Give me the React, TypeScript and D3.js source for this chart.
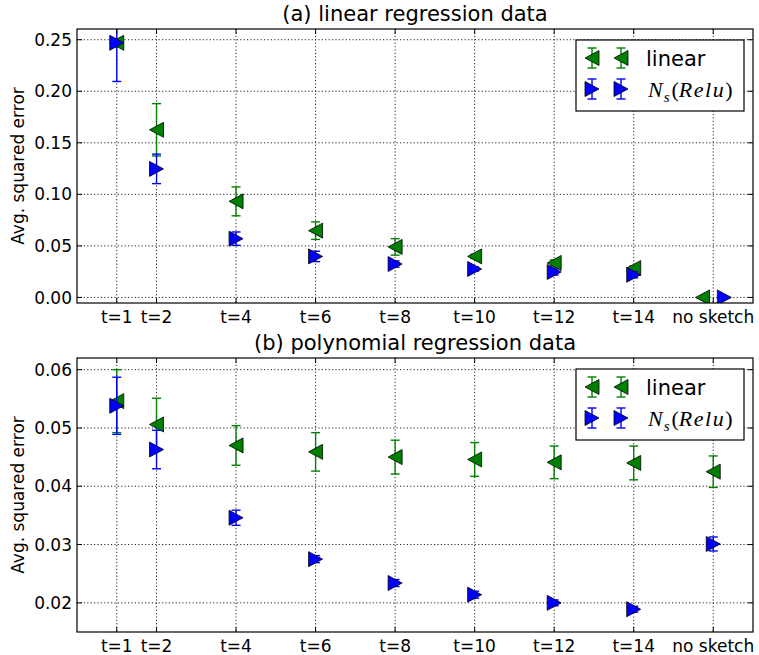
import React, { useEffect, useRef } from 'react';
import * as d3 from 'd3';

// x axis categories
const tickPos = [1, 2, 4, 6, 8, 10, 12, 14, 16];
const tickLabels = ['t=1', 't=2', 't=4', 't=6', 't=8', 't=10', 't=12', 't=14', 'no sketch'];

// (a) linear regression data
const linearAX = [1, 2, 4, 6, 8, 10, 12, 14, 15.73];
const linearA = [0.247, 0.1626, 0.0932, 0.0648, 0.049, 0.0398, 0.0334, 0.0285, 0.0];
const linearAErr = [0.004, 0.0254, 0.014, 0.0085, 0.008, 0.002, 0.003, 0.002, 0.0];
const reluAX = [1, 2, 4, 6, 8, 10, 12, 14, 16.28];
const reluA = [0.247, 0.1247, 0.057, 0.0398, 0.0324, 0.0276, 0.0247, 0.022, 0.0];
const reluAErr = [0.0375, 0.0143, 0.0065, 0.005, 0.003, 0.002, 0.003, 0.003, 0.0];
const yTicksA = [0, 0.05, 0.1, 0.15, 0.2, 0.25];

// (b) polynomial regression data
const linearBX = [1, 2, 4, 6, 8, 10, 12, 14, 16];
const linearB = [0.0546, 0.0506, 0.047, 0.0459, 0.045, 0.0446, 0.0441, 0.044, 0.0425];
const linearBErr = [0.0054, 0.0045, 0.0034, 0.0033, 0.0029, 0.0029, 0.0028, 0.0029, 0.0027];
const reluBX = [1, 2, 4, 6, 8, 10, 12, 14, 16];
const reluB = [0.0538, 0.0463, 0.0346, 0.0275, 0.0234, 0.0214, 0.02, 0.0189, 0.0301];
const reluBErr = [0.0049, 0.0033, 0.0013, 0.0006, 0.0006, 0.0006, 0.0005, 0.0005, 0.0012];
const yTicksB = [0.02, 0.03, 0.04, 0.05, 0.06];

const GREEN = '#008000';
const BLUE = '#0000ff';
const FONT = '"DejaVu Sans", sans-serif';

const W = 759, H = 655;
const left = 77, right = 753;

const triLeft = 'M-7,0L7,-7.5L7,7.5Z';
const triRight = 'M7,0L-7,-7.5L-7,7.5Z';

function drawPanel(svg, id, top, bottom, yDomain, yTicks, title, series) {
  const x = d3.scaleLinear().domain([0, 17]).range([left, right]);
  const y = d3.scaleLinear().domain(yDomain).range([bottom, top]);
  const g = svg.append('g');

  g.append('clipPath').attr('id', id)
    .append('rect').attr('x', left).attr('y', top).attr('width', right - left).attr('height', bottom - top);

  // grid, dotted
  const grid = g.append('g').attr('stroke', '#000').attr('stroke-width', 1)
    .attr('stroke-dasharray', '1.2,2.2').attr('opacity', 0.85);
  grid.selectAll('.gx').data(tickPos).enter().append('line')
    .attr('x1', d => x(d)).attr('x2', d => x(d)).attr('y1', top).attr('y2', bottom);
  grid.selectAll('.gy').data(yTicks).enter().append('line')
    .attr('x1', left).attr('x2', right).attr('y1', d => y(d)).attr('y2', d => y(d));

  // data
  const marks = g.append('g').attr('clip-path', `url(#${id})`);
  series.forEach(s => {
    const pts = s.xs.map((xv, i) => ({ x: xv, v: s.vals[i], e: s.errs[i] }));
    const eb = marks.append('g').attr('stroke', s.color).attr('stroke-width', 1.4);
    pts.forEach(p => {
      if (p.e <= 0) return;
      const cx = x(p.x);
      eb.append('line').attr('x1', cx).attr('x2', cx).attr('y1', y(p.v - p.e)).attr('y2', y(p.v + p.e));
      [p.v - p.e, p.v + p.e].forEach(c => {
        eb.append('line').attr('x1', cx - 4.5).attr('x2', cx + 4.5).attr('y1', y(c)).attr('y2', y(c));
      });
    });
    marks.append('g').selectAll('path').data(pts).enter().append('path')
      .attr('d', s.shape)
      .attr('transform', p => `translate(${x(p.x)},${y(p.v)})`)
      .attr('fill', s.color).attr('stroke', '#000').attr('stroke-width', 0.8);
  });

  // frame
  g.append('rect').attr('x', left).attr('y', top).attr('width', right - left).attr('height', bottom - top)
    .attr('fill', 'none').attr('stroke', '#000').attr('stroke-width', 1.2);

  // ticks (inward, all sides)
  const tk = g.append('g').attr('stroke', '#000').attr('stroke-width', 1);
  tickPos.forEach(t => {
    tk.append('line').attr('x1', x(t)).attr('x2', x(t)).attr('y1', bottom).attr('y2', bottom - 5);
    tk.append('line').attr('x1', x(t)).attr('x2', x(t)).attr('y1', top).attr('y2', top + 5);
  });
  yTicks.forEach(t => {
    tk.append('line').attr('x1', left).attr('x2', left + 5).attr('y1', y(t)).attr('y2', y(t));
    tk.append('line').attr('x1', right).attr('x2', right - 5).attr('y1', y(t)).attr('y2', y(t));
  });

  // tick labels
  g.append('g').selectAll('text').data(tickPos).enter().append('text')
    .attr('x', d => x(d)).attr('y', bottom + 20)
    .attr('text-anchor', 'middle').attr('font-family', FONT).attr('font-size', 17)
    .text((d, i) => tickLabels[i]);
  g.append('g').selectAll('text').data(yTicks).enter().append('text')
    .attr('x', left - 5).attr('y', d => y(d)).attr('dy', '0.36em')
    .attr('text-anchor', 'end').attr('font-family', FONT).attr('font-size', 17)
    .text(d => d3.format('.2f')(d));

  // y label
  g.append('text')
    .attr('transform', `translate(24,${(top + bottom) / 2}) rotate(-90)`)
    .attr('text-anchor', 'middle').attr('font-family', FONT).attr('font-size', 17)
    .text('Avg. squared error');

  // title
  g.append('text')
    .attr('x', (left + right) / 2).attr('y', top - 8)
    .attr('text-anchor', 'middle').attr('font-family', FONT).attr('font-size', 21)
    .text(title);

  // legend
  const lg = g.append('g');
  const lx = 576, ly = top + 11;
  lg.append('rect').attr('x', lx).attr('y', ly).attr('width', 168).attr('height', 71)
    .attr('fill', '#fff').attr('stroke', '#000').attr('stroke-width', 1.2);
  series.forEach((s, i) => {
    const cy = ly + 18 + i * 31;
    [592, 621].forEach(mx => {
      lg.append('line').attr('x1', mx).attr('x2', mx).attr('y1', cy - 10).attr('y2', cy + 10)
        .attr('stroke', s.color).attr('stroke-width', 1.4);
      [cy - 10, cy + 10].forEach(c => {
        lg.append('line').attr('x1', mx - 4.5).attr('x2', mx + 4.5).attr('y1', c).attr('y2', c)
          .attr('stroke', s.color).attr('stroke-width', 1.4);
      });
      lg.append('path').attr('d', s.shape).attr('transform', `translate(${mx},${cy})`)
        .attr('fill', s.color).attr('stroke', '#000').attr('stroke-width', 0.8);
    });
    const txt = lg.append('text').attr('x', 648).attr('y', cy).attr('dy', '0.36em')
      .attr('font-size', 22);
    if (s.math) {
      txt.attr('font-family', '"Liberation Serif", serif');
      txt.append('tspan').attr('font-style', 'italic').text('N');
      txt.append('tspan').attr('font-style', 'italic').attr('font-size', 15).attr('dy', 5).attr('dx', 1).text('s');
      txt.append('tspan').attr('dy', -5).attr('dx', 2).text('(');
      txt.append('tspan').attr('font-style', 'italic').attr('letter-spacing', 1.5).text('Relu');
      txt.append('tspan').text(')');
    } else {
      txt.attr('font-family', FONT).attr('font-size', 21).attr('x', 646).text(s.label);
    }
  });
}

const App = () => {
  const ref = useRef(null);

  useEffect(() => {
    const svg = d3.select(ref.current);
    svg.selectAll('*').remove();

    drawPanel(svg, 'clipA', 29, 303, [-0.0054, 0.2604], yTicksA, '(a) linear regression data', [
      { xs: linearAX, vals: linearA, errs: linearAErr, color: GREEN, shape: triLeft, label: 'linear' },
      { xs: reluAX, vals: reluA, errs: reluAErr, color: BLUE, shape: triRight, math: true },
    ]);
    drawPanel(svg, 'clipB', 358, 632, [0.015, 0.062], yTicksB, '(b) polynomial regression data', [
      { xs: linearBX, vals: linearB, errs: linearBErr, color: GREEN, shape: triLeft, label: 'linear' },
      { xs: reluBX, vals: reluB, errs: reluBErr, color: BLUE, shape: triRight, math: true },
    ]);
  }, []);

  return (
    <svg ref={ref} width={W} height={H}
      style={{ position: 'absolute', left: 0, top: 0, background: '#fff' }} />
  );
};

export default App;
